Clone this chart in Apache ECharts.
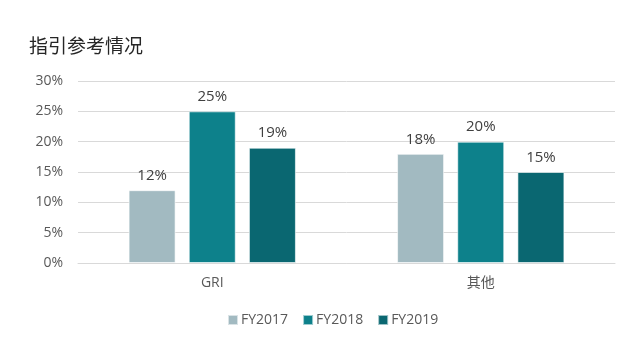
<!DOCTYPE html>
<html>
<head>
<meta charset="utf-8">
<script src="https://cdn.jsdelivr.net/npm/echarts@6/dist/echarts.min.js"></script>
<style>
  html, body { margin: 0; padding: 0; background: #fff; }
  #chart { width: 640px; height: 343px; }
</style>
</head>
<body>
<div id="chart"></div>
<script>
// Share of reports citing each reporting guideline, by fiscal year
const categories = ['GRI', '其他'];
const yTicks = [0, 5, 10, 15, 20, 25, 30];
const fy2017 = [12, 18];
const fy2018 = [25, 20];
const fy2019 = [19, 15];

const seriesNames = ['FY2017', 'FY2018', 'FY2019'];
const seriesData = [fy2017, fy2018, fy2019];
const colors = ['#A2BAC1', '#0D818B', '#0A6771'];

const font = '"Open Sans", "Noto Sans CJK SC", sans-serif';

const chart = echarts.init(document.getElementById('chart'), null, { renderer: 'canvas' });
chart.setOption({
  animation: false,
  title: {
    text: '指引参考情况',
    left: 24,
    top: 31,
    textStyle: { fontFamily: '"Noto Sans CJK SC", sans-serif', fontSize: 19, fontWeight: 'normal', color: '#262626' }
  },
  legend: {
    data: seriesNames,
    bottom: 11,
    left: 222,
    itemWidth: 10,
    itemHeight: 10,
    itemGap: 14,
    icon: 'rect',
    textStyle: { fontFamily: font, fontSize: 14, color: '#595959', padding: [0, 0, 0, -2] }
  },
  grid: { left: 78, right: 25, top: 81, bottom: 80 },
  xAxis: {
    type: 'category',
    data: categories,
    axisLine: { lineStyle: { color: '#D9D9D9', width: 1 } },
    axisTick: { show: false },
    axisLabel: { fontFamily: font, fontSize: 14, color: '#595959', margin: 13 }
  },
  yAxis: {
    type: 'value',
    min: yTicks[0],
    max: yTicks[yTicks.length - 1],
    interval: yTicks[1] - yTicks[0],
    axisLine: { show: false },
    axisTick: { show: false },
    splitLine: { lineStyle: { color: '#D9D9D9', width: 1 } },
    axisLabel: { formatter: '{value}%', fontFamily: font, fontSize: 14, color: '#595959', margin: 15 }
  },
  series: seriesNames.map((name, i) => ({
    name,
    type: 'bar',
    data: seriesData[i],
    barWidth: 47,
    barGap: '28%',
    itemStyle: { color: colors[i], borderColor: 'rgba(255,255,255,0.6)', borderWidth: 1 },
    label: {
      show: true,
      position: 'top',
      distance: 7,
      formatter: '{c}%',
      fontFamily: font,
      fontSize: 15,
      color: '#404040'
    }
  }))
});
</script>
</body>
</html>
